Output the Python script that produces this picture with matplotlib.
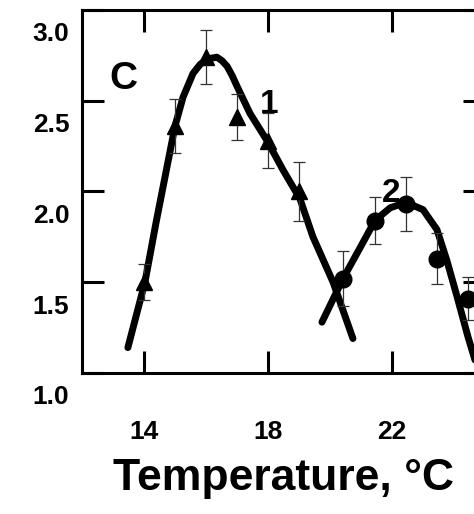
import numpy as np
import matplotlib
matplotlib.use("Agg")
import matplotlib.pyplot as plt
from matplotlib.transforms import ScaledTranslation

plt.rcParams['font.family'] = ['Liberation Sans', 'DejaVu Sans']
plt.rcParams['font.weight'] = 'bold'

# data
tri_x = [14.0, 15.0, 16.0, 17.0, 18.0, 19.0]
tri_y = [1.50, 2.36, 2.74, 2.41, 2.28, 2.00]
tri_err = [0.10, 0.15, 0.15, 0.125, 0.15, 0.16]

circ_x = [20.42, 21.45, 22.45, 23.45, 24.45]
circ_y = [1.52, 1.84, 1.93, 1.63, 1.41]
circ_err = [0.15, 0.13, 0.15, 0.14, 0.12]

fit1_x = [13.48, 14.03, 14.39, 15.0, 15.26, 15.58, 15.81, 16.03, 16.35, 16.52, 16.68,
          16.84, 17.0, 17.42, 17.97, 18.48, 19.03, 19.45, 20.1, 20.74]
fit1_y = [1.14, 1.50, 1.83, 2.36, 2.52, 2.65, 2.70, 2.73, 2.74, 2.72, 2.69,
          2.64, 2.58, 2.43, 2.28, 2.12, 1.96, 1.75, 1.50, 1.19]

fit2_x = [19.74, 20.42, 20.97, 21.45, 21.94, 22.45, 23.0, 23.45, 23.77, 24.1, 24.45, 24.68]
fit2_y = [1.28, 1.52, 1.69, 1.84, 1.91, 1.94, 1.90, 1.79, 1.62, 1.42, 1.20, 1.07]

xticks = [14, 18, 22]
yticks = [1.0, 1.5, 2.0, 2.5, 3.0]

fig = plt.figure(figsize=(4.74, 5.14), dpi=100)
ax = fig.add_axes([82/474, 141/514, 403/474, 363/514])

ax.plot(fit1_x, fit1_y, '-k', lw=5, solid_capstyle='round', solid_joinstyle='round')
ax.plot(fit2_x, fit2_y, '-k', lw=5, solid_capstyle='round', solid_joinstyle='round')
ax.errorbar(tri_x, tri_y, yerr=tri_err, fmt='^', color='k', ms=11,
            ecolor='#333333', elinewidth=0.9, capsize=4.5, capthick=0.9)
ax.errorbar(circ_x, circ_y, yerr=circ_err, fmt='o', color='k', ms=12,
            ecolor='#333333', elinewidth=0.9, capsize=4.5, capthick=0.9)

ax.text(13.32, 2.62, 'C', fontsize=28, fontweight='bold', ha='center', va='center')
ax.text(18.03, 2.48, '1', fontsize=24, fontweight='bold', ha='center', va='center')
ax.text(21.97, 1.99, '2', fontsize=24, fontweight='bold', ha='center', va='center')

ax.set_xlim(12, 25)
ax.set_ylim(1.0, 3.0)
ax.set_xticks(xticks)
ax.set_yticks(yticks)
ax.set_yticklabels(['%.1f' % v for v in yticks])

for s in ax.spines.values():
    s.set_linewidth(2.2)
ax.tick_params(direction='in', length=16, width=2.2, top=True, right=True,
               labelsize=19)
ax.tick_params(axis='x', pad=34)
ax.tick_params(axis='y', pad=9)

offset = ScaledTranslation(0, -22/100, fig.dpi_scale_trans)
for lab in ax.get_yticklabels():
    lab.set_transform(lab.get_transform() + offset)

ax.set_xlabel('Temperature, °C', fontsize=32, fontweight='bold', labelpad=10)

fig.savefig('out.png', dpi=100)
